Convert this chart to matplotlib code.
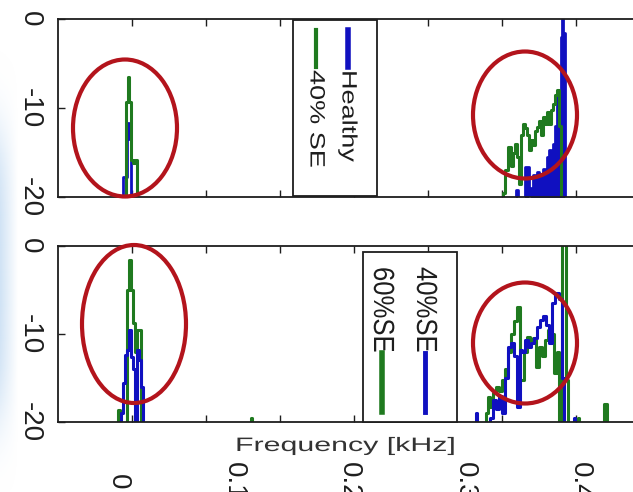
import matplotlib
matplotlib.use('Agg')
import matplotlib.pyplot as plt
import matplotlib.patheffects as pe
from matplotlib.patches import Ellipse, Rectangle
from matplotlib.lines import Line2D
from matplotlib.transforms import Affine2D
import numpy as np

plt.rcParams['font.family'] = ['Liberation Sans', 'DejaVu Sans']
plt.rcParams['axes.unicode_minus'] = False

# Spectra: frequency in kHz, level in dB (-30 = below floor)
top_healthy_f = [0.0035, 0.0052, 0.0069, 0.0087, 0.0104, 0.0121,
                 0.3437, 0.3454, 0.3472, 0.3515, 0.3533, 0.3550, 0.3567, 0.3584,
                 0.3602, 0.3619, 0.3636, 0.3654, 0.3671, 0.3688, 0.3706, 0.3723,
                 0.3740, 0.3758, 0.3775, 0.3792, 0.3810, 0.3827, 0.3844, 0.3853,
                 0.3861, 0.3879]
top_healthy_db = [-30, -17.8, -17.8, -11.7, -13.5, -30,
                  -30, -19.2, -30, -30, -16.6, -16.6, -30, -19,
                  -17.5, -18, -17.2, -18, -17.4, -16.8, -17.5, -15.5,
                  -14.7, -15.5, -14, -12, -8.8, -12, -2, 0.5,
                  -1.6, -30]

top_se40_f = [0.0069, 0.0078, 0.0095, 0.0104, 0.0121, 0.0139, 0.0156, 0.0173,
              0.3325, 0.3342, 0.3359, 0.3394, 0.3411, 0.3429, 0.3446, 0.3463,
              0.3481, 0.3498, 0.3515, 0.3533, 0.3550, 0.3567, 0.3584, 0.3602,
              0.3619, 0.3636, 0.3654, 0.3671, 0.3688, 0.3706, 0.3723, 0.3740,
              0.3758, 0.3775, 0.3792, 0.3810, 0.3827, 0.3844]
top_se40_db = [-30, -9.3, -6.5, -9.3, -15.8, -16.2, -15.8, -30,
               -30, -19.6, -17, -14.4, -16.5, -15, -14, -15.5,
               -18.5, -13, -11.8, -12.2, -13, -14.7, -13.6, -14.2,
               -12.6, -12.1, -11.5, -13, -11, -11.8, -10.5, -11.8,
               -10.2, -9.5, -8.5, -8, -12, -30]

bot_se40_f = [0.0017, 0.0035, 0.0052, 0.0069, 0.0087, 0.0104, 0.0121, 0.0139,
              0.0156, 0.0173, 0.0190, 0.0208, 0.0225,
              0.3099, 0.3108, 0.3117,
              0.3212, 0.3238, 0.3264, 0.3290, 0.3316, 0.3342, 0.3368, 0.3394,
              0.3420, 0.3446, 0.3472, 0.3489, 0.3515, 0.3541, 0.3567, 0.3593,
              0.3619, 0.3645, 0.3671, 0.3697, 0.3723, 0.3749, 0.3775, 0.3801,
              0.3827, 0.3853, 0.3870,
              0.3948, 0.3957, 0.3965]
bot_se40_db = [-30, -19, -15.6, -12.4, -11.8, -9.5, -12.6, -14,
               -30, -11.8, -13, -16, -30,
               -30, -19, -30,
               -30, -19.5, -17.5, -18.5, -17, -19, -15, -11.5,
               -11, -12.5, -18.3, -11.8, -12, -10.7, -11.5, -11,
               -10.5, -9.2, -8.4, -8, -9, -11, -6.5, -5.3,
               -6, -15, -30,
               -30, -19.5, -30]

bot_se60_f = [0.0000, 0.0009, 0.0026, 0.0069, 0.0087, 0.0104, 0.0121, 0.0139,
              0.0156, 0.0173, 0.0190, 0.0208,
              0.1152, 0.1160, 0.1169,
              0.3177, 0.3194, 0.3212, 0.3238, 0.3264, 0.3290, 0.3316, 0.3342,
              0.3368, 0.3394, 0.3420, 0.3446, 0.3472, 0.3498, 0.3524, 0.3550,
              0.3576, 0.3602, 0.3628, 0.3654, 0.3680, 0.3706, 0.3732, 0.3758,
              0.3784, 0.3810, 0.3827, 0.3870, 0.3887, 0.3905,
              0.3974, 0.3983, 0.3992,
              0.4199, 0.4225, 0.4251]
bot_se60_db = [-30, -18.6, -30, -30, -5, -1.6, -5, -8.8,
               -12, -9.5, -9.5, -30,
               -30, -19.6, -30,
               -30, -19, -17.2, -18.3, -16.7, -16, -16.5, -15.2,
               -14, -12, -10, -8.5, -6.9, -15.2, -12, -10.3,
               -11, -10.5, -13.7, -11.5, -12.5, -10.7, -9.5, -10,
               -14.4, -12, -30, 1, -15.2, -30,
               -30, -19.5, -30,
               -30, -18, -30]

freq_labels = [0, 0.1, 0.2, 0.3, 0.4]
tick_khz = [0.0121, 0.0762, 0.1403, 0.2043, 0.2684, 0.3325, 0.3965]
db_ticks = [-20, -10, 0]

blue = '#1010c0'
green = '#1f7a1f'
red = '#b3141c'
ink = '#1e1e1e'


class Stretch(pe.AbstractPathEffect):
    """Scale the drawn glyphs about the text origin (the source image is stretched)."""
    def __init__(self, sx=1.0, sy=1.0):
        super().__init__()
        self.sx, self.sy = sx, sy

    def draw_path(self, renderer, gc, tpath, affine, rgbFace=None):
        x0, y0 = affine.transform((0, 0))
        t = affine + Affine2D().translate(-x0, -y0).scale(self.sx, self.sy).translate(x0, y0)
        renderer.draw_path(gc, tpath, t, rgbFace)


W, H = 633, 492
fig = plt.figure(figsize=(W / 100, H / 100), dpi=100)
# pixel coordinates (origin top-left) for the overlay pieces
px = Affine2D().scale(1 / W, -1 / H).translate(0, 1) + fig.transFigure

# faint blue edge of the slide background
bg = fig.add_axes([0, 0, 30 / W, 1], zorder=-5)
yy = np.linspace(0, 1, 200)[:, None]
xx = np.linspace(0, 1, 30)[None, :]
alpha = np.clip(1 - xx / 0.6, 0, 1) * np.exp(-((yy - 0.56) / 0.3) ** 4)
img = np.zeros((200, 30, 4))
img[..., 0], img[..., 1], img[..., 2] = 0.80, 0.88, 0.96
img[..., 3] = alpha * 0.9
bg.imshow(img, aspect='auto', extent=[0, 1, 0, 1])
bg.axis('off')

ax1 = fig.add_axes([58 / W, (H - 197) / H, 642 / W, 178 / H])
ax2 = fig.add_axes([58 / W, (H - 422) / H, 642 / W, 176 / H])

ax1.fill_between(top_healthy_f[6:], top_healthy_db[6:], -30, step='mid', color=blue, lw=0)
ax1.step(top_healthy_f, top_healthy_db, where='mid', color=blue, lw=2)
ax1.step(top_se40_f, top_se40_db, where='mid', color=green, lw=2.2)

ax2.step(bot_se60_f, bot_se60_db, where='mid', color=green, lw=2.2)
ax2.step(bot_se40_f, bot_se40_db, where='mid', color=blue, lw=2.2)

for ax in (ax1, ax2):
    ax.set_xlim(-0.0519, 0.5039)
    ax.set_ylim(-20, 0)
    ax.set_xticks(tick_khz)
    ax.set_yticks(db_ticks)
    ax.tick_params(axis='x', direction='in', top=True, bottom=True, length=5,
                   width=1, color=ink, labelbottom=False)
    ax.tick_params(axis='y', direction='in', left=True, right=False, length=5,
                   width=1, color=ink, labelsize=20, labelcolor=ink, pad=11)
    plt.setp(ax.get_yticklabels(), rotation=-90, va='center')
    for s in ax.spines.values():
        s.set_linewidth(1.3)
        s.set_color(ink)

# frequency labels sit well below the axis title
sec = ax2.secondary_xaxis('bottom')
sec.set_xticks(freq_labels)
sec.set_xticklabels(['0', '0.1', '0.2', '0.3', '0.4'])
sec.tick_params(length=0, pad=43, labelsize=20, labelcolor=ink)
plt.setp(sec.get_xticklabels(), rotation=-90, va='center')
sec.spines['bottom'].set_visible(False)

ax2.set_xlabel('Frequency [kHz]', fontsize=14, color='#333333', ha='left',
               path_effects=[Stretch(1.56, 1)])
ax2.xaxis.set_label_coords((235 - 58) / 642, -(438 - 422) / 176)

# rotated legends
fig.patches.append(Rectangle((293, 20), 84, 176, transform=px, facecolor='white',
                             edgecolor=ink, lw=1.3, zorder=3))
fig.lines.append(Line2D([348, 348], [30, 67], transform=px, color=blue, lw=4, zorder=4))
fig.lines.append(Line2D([316, 316], [30, 67], transform=px, color=green, lw=3, zorder=4))
fig.text(348, 70, 'Healthy', transform=px, rotation=-90, ha='center', va='top',
         fontsize=15, color=ink, zorder=5, path_effects=[Stretch(1, 1.3)])
fig.text(316, 70, '40% SE', transform=px, rotation=-90, ha='center', va='top',
         fontsize=15, color=ink, zorder=5, path_effects=[Stretch(1, 1.3)])

fig.patches.append(Rectangle((363, 252), 94, 170, transform=px, facecolor='white',
                             edgecolor=ink, lw=1.3, zorder=3))
fig.lines.append(Line2D([425, 425], [353, 412], transform=px, color=blue, lw=3.5, zorder=4))
fig.lines.append(Line2D([382, 382], [353, 412], transform=px, color=green, lw=4, zorder=4))
fig.text(425, 267, '40%SE', transform=px, rotation=-90, ha='center', va='top',
         fontsize=21, color=ink, zorder=5, path_effects=[Stretch(1, 0.88)])
fig.text(382, 267, '60%SE', transform=px, rotation=-90, ha='center', va='top',
         fontsize=21, color=ink, zorder=5, path_effects=[Stretch(1, 0.88)])

# red highlight ellipses
for cx, cy, w, h in [(125, 128, 104, 137), (525, 115, 104, 127),
                     (134, 324, 104, 158), (525, 343, 104, 121)]:
    fig.patches.append(Ellipse((cx, cy), w, h, transform=px, fill=False,
                               edgecolor=red, lw=3, zorder=6))

fig.savefig('out.png', dpi=100)
